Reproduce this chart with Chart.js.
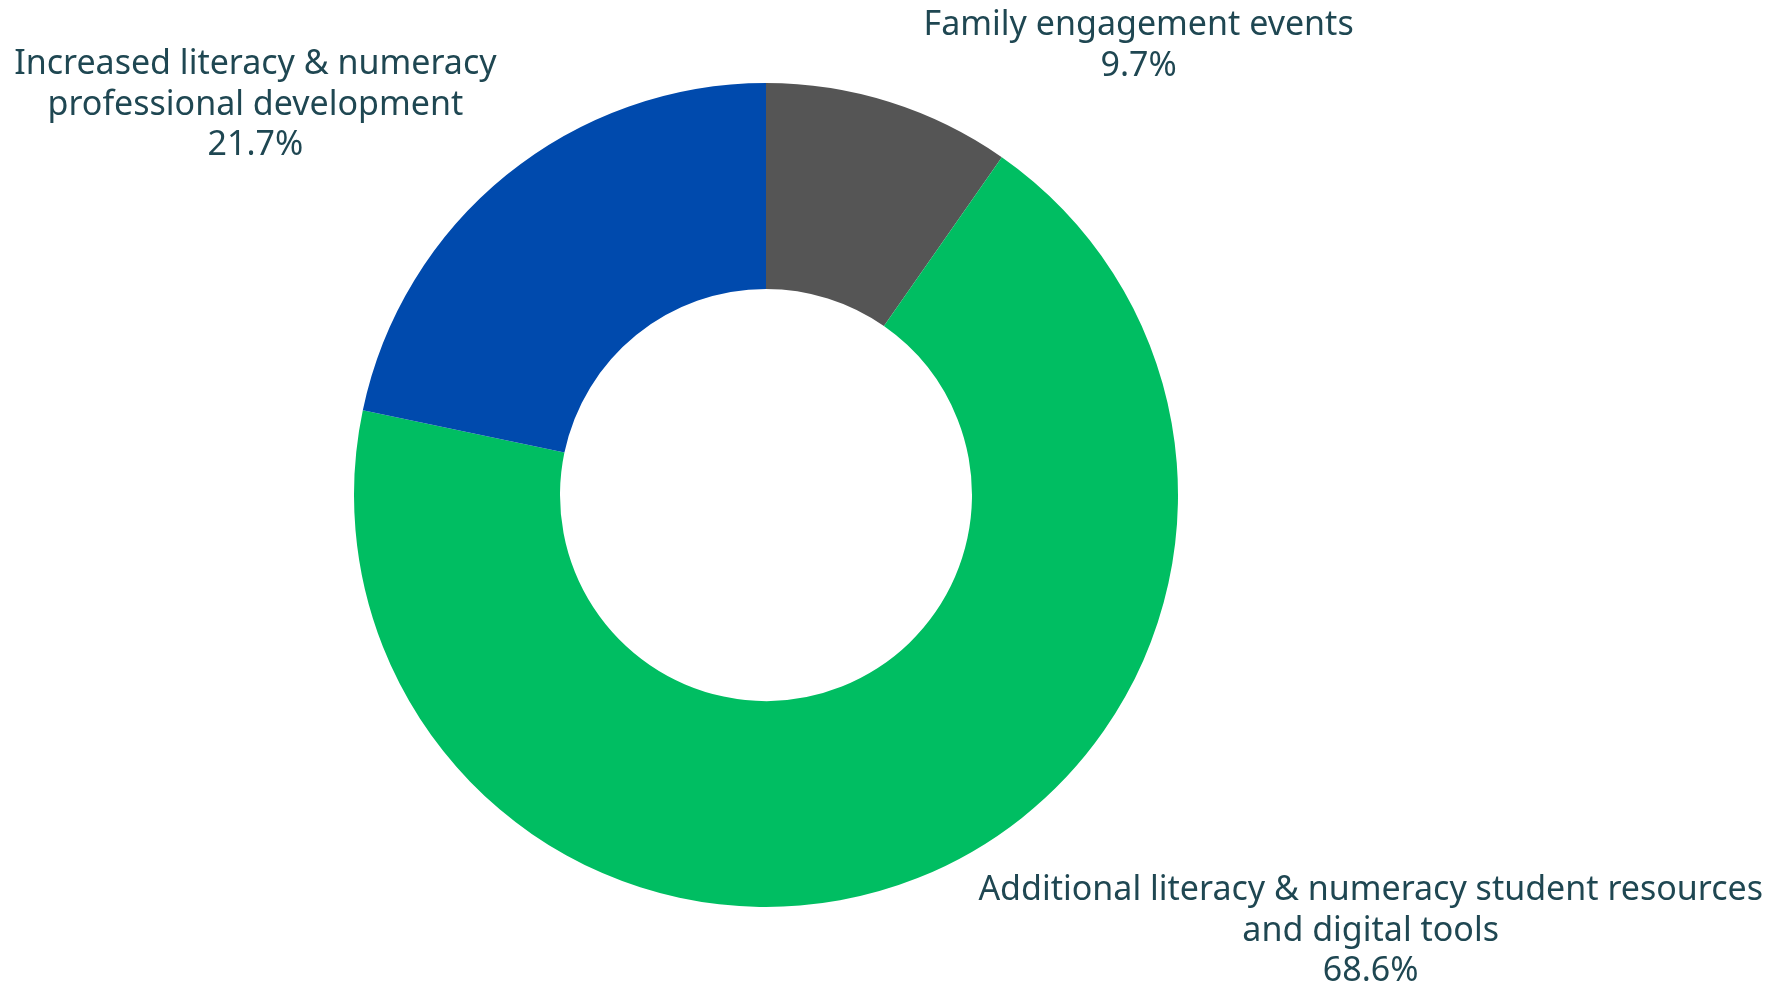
<!DOCTYPE html>
<html>
<head>
<meta charset="utf-8">
<script src="https://cdn.jsdelivr.net/npm/chart.js@4/dist/chart.umd.min.js"></script>
<style>
  html, body { margin: 0; padding: 0; background: #fff; }
  #wrap { width: 1786px; height: 985px; }
</style>
</head>
<body>
<div id="wrap"><canvas id="donut"></canvas></div>
<script>
const categories = [
    ["Family engagement events"],
    ["Additional literacy & numeracy student resources", "and digital tools"],
    ["Increased literacy & numeracy", "professional development"]
];
const shares = [9.7, 68.6, 21.7];
const colors = ["#555555", "#00BE62", "#004AAD"];

// where each label block sits, relative to the outer edge at the slice's middle angle
const labelOffsets = [[249, -56], [453, 53], [-251, -70]];

const outsideLabels = {
    id: "outsideLabels",
    afterDatasetsDraw(chart) {
        const ctx = chart.ctx;
        const meta = chart.getDatasetMeta(0);
        ctx.save();
        ctx.font = "34px 'Noto Sans'";
        ctx.fillStyle = "#1F4752";
        ctx.textAlign = "center";
        ctx.textBaseline = "middle";
        meta.data.forEach((arc, i) => {
            const mid = (arc.startAngle + arc.endAngle) / 2;
            const x = arc.x + Math.cos(mid) * arc.outerRadius + labelOffsets[i][0];
            const y = arc.y + Math.sin(mid) * arc.outerRadius + labelOffsets[i][1];
            const lines = categories[i].concat([shares[i].toFixed(1) + "%"]);
            const lh = 40.5;
            const top = y - (lines.length - 1) * lh / 2;
            lines.forEach((t, k) => ctx.fillText(t, x, top + k * lh));
        });
        ctx.restore();
    }
};

new Chart(document.getElementById("donut"), {
    type: "doughnut",
    data: {
        labels: categories,
        datasets: [{
            data: shares,
            backgroundColor: colors,
            borderWidth: 0
        }]
    },
    options: {
        responsive: true,
        maintainAspectRatio: false,
        animation: false,
        cutout: "50%",
        layout: { padding: { left: 354, right: 608, top: 83, bottom: 78 } },
        plugins: {
            legend: { display: false },
            tooltip: { enabled: false }
        }
    },
    plugins: [outsideLabels]
});
</script>
</body>
</html>
